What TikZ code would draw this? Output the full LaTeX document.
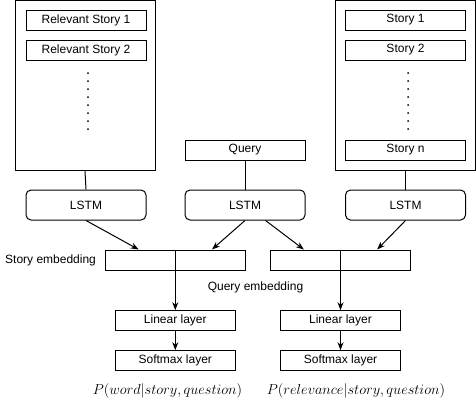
\documentclass[tikz,border=0pt]{standalone}
\usepackage[no-math]{fontspec}
\setmainfont{Liberation Sans}
\usetikzlibrary{calc,arrows.meta}
\begin{document}
\begin{tikzpicture}[x=1pt,y=-1pt,
  every node/.style={font=\fontsize{12}{14}\selectfont},
  box/.style={draw,line width=1pt,minimum width=120pt,minimum height=20pt,inner sep=0pt},
  lstm/.style={box,rounded corners=5pt,minimum height=30pt},
  emb/.style={draw,line width=1pt,minimum width=140pt,minimum height=20pt,inner sep=0pt},
  frame/.style={draw,line width=1pt},
  link/.style={line width=1pt},
  arr/.style={line width=1pt,-{Stealth[length=8pt,width=6pt]}},
  dot/.style={fill,circle,inner sep=0pt,minimum size=2pt},
  mathlab/.style={inner sep=0pt,font=\fontsize{14}{16}\selectfont}
]
\useasboundingbox (0,0) rectangle (476,413);
% frames
\node[frame,minimum width=140pt,minimum height=170pt,inner sep=0pt] (frameL) at (85,85.5) {};
\node[frame,minimum width=140pt,minimum height=170pt,inner sep=0pt] (frameR) at (405.5,85.5) {};
% left stories
\node[box] (rs1) at (86,20) {Relevant Story 1};
\node[box] (rs2) at (86,50) {Relevant Story 2};
\foreach \i in {0,...,7} \node[dot] (ldot\i) at (88,73+8*\i) {};
% right stories
\node[box] (s1) at (405.5,20) {Story 1};
\node[box] (s2) at (405.5,50) {Story 2};
\foreach \i in {0,...,7} \node[dot] (rdot\i) at (408,73+8*\i) {};
\node[box] (sn) at (405.5,150) {Story n};
% query
\node[box] (query) at (245,150) {Query};
% LSTMs
\node[lstm] (lstmL) at (86,205) {LSTM};
\node[lstm] (lstmM) at (245,205) {LSTM};
\node[lstm] (lstmR) at (405.5,205) {LSTM};
% embeddings
\node[emb] (embL) at (175.3,260) {};
\node[emb] (embR) at (340.5,260) {};
\node[anchor=west,inner sep=0pt] (selab) at (5,260) {Story embedding};
\node[inner sep=0pt] (qelab) at (255.5,287) {Query embedding};
% linear & softmax
\node[box] (linL) at (175.3,320.7) {Linear layer};
\node[box] (linR) at (340.5,320.7) {Linear layer};
\node[box] (softL) at (175.3,360.7) {Softmax layer};
\node[box] (softR) at (340.5,360.7) {Softmax layer};
\node[mathlab] (pL) at (167.5,391) {$P(word|story, question)$};
\node[mathlab] (pR) at (356,391) {$P(relevance|story, question)$};
% connectors
\draw[link] (frameL.south) -- (lstmL.north);
\draw[link] (frameR.south) -- (lstmR.north);
\draw[link] (query.south) -- (lstmM.north);
\draw[arr] (lstmL.south) -- ($(embL.north west)!0.24!(embL.north east)$);
\draw[arr] (lstmM.south) -- ($(embL.north west)!0.76!(embL.north east)$);
\draw[arr] ($(lstmM.south west)!0.67!(lstmM.south east)$) -- ($(embR.north west)!0.24!(embR.north east)$);
\draw[arr] (lstmR.south) -- ($(embR.north west)!0.76!(embR.north east)$);
\draw[arr] (embL.north) -- (linL.north);
\draw[arr] (embR.north) -- (linR.north);
\draw[arr] (linL.south) -- (softL.north);
\draw[arr] (linR.south) -- (softR.north);
\end{tikzpicture}
\end{document}
